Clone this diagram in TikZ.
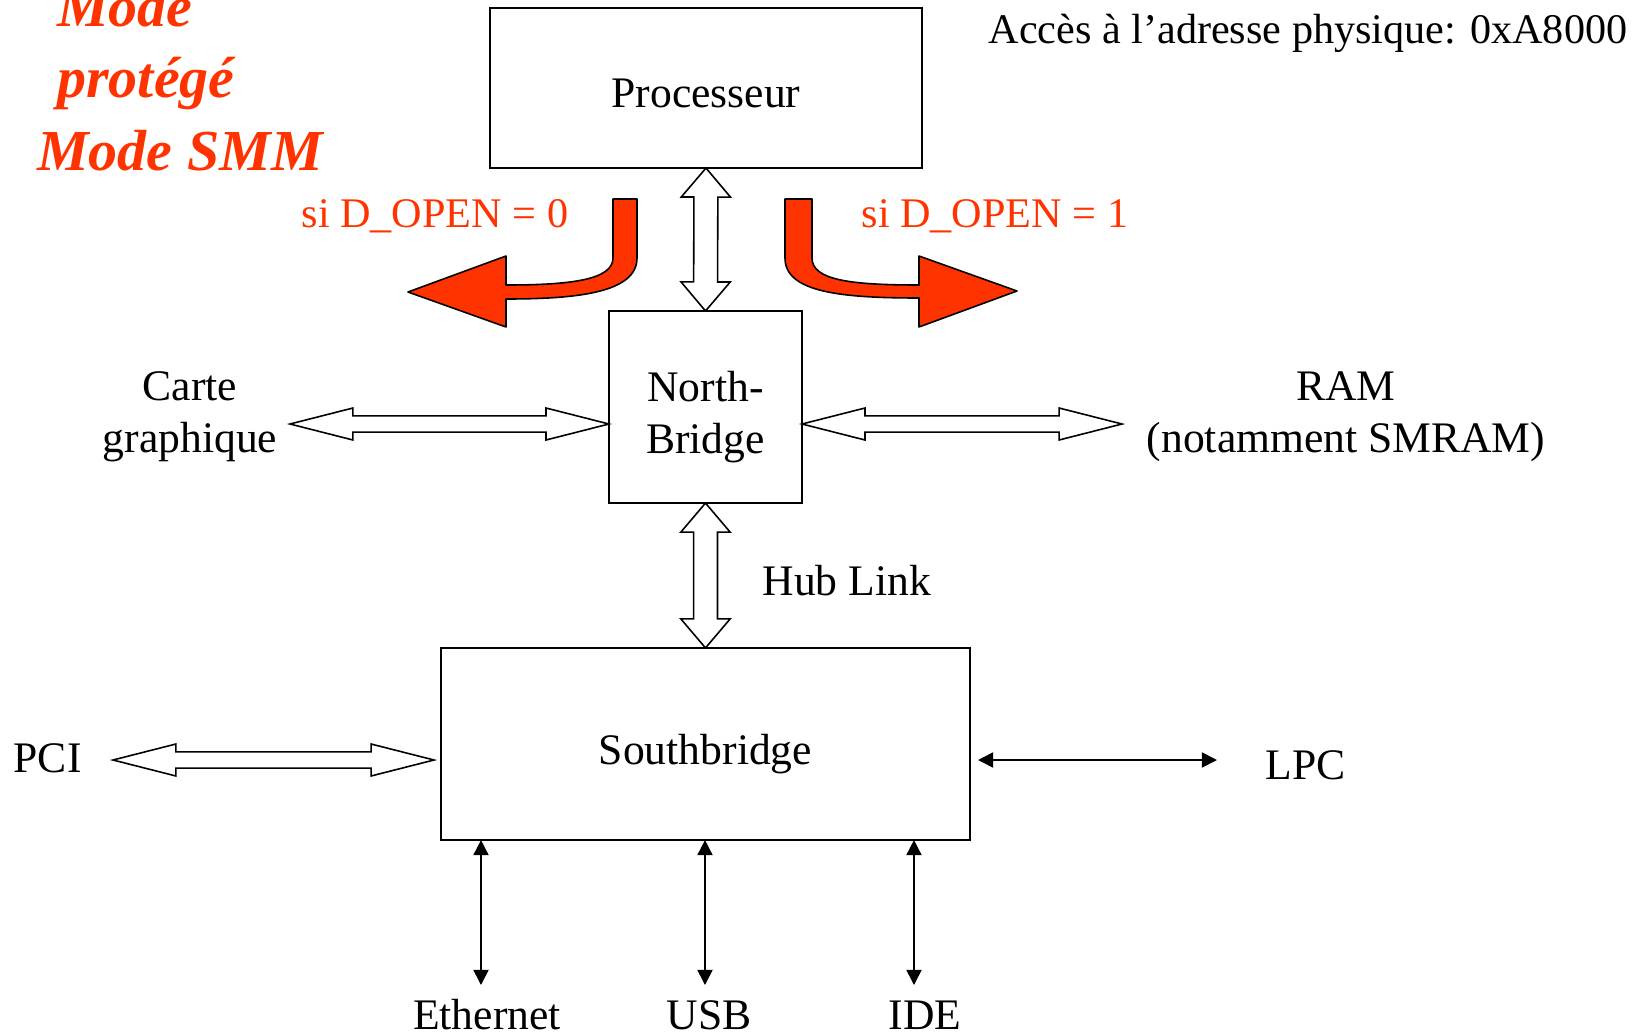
\documentclass[tikz,border=0pt]{standalone}
\usepackage{fontspec}
\setmainfont{Liberation Serif}
\usetikzlibrary{arrows.meta,calc,positioning}
\definecolor{smmred}{HTML}{FF3300}

\tikzset{
  chip/.style={draw, line width=0.6pt, inner sep=0pt, outer sep=0pt},
  busline/.style={draw, line width=0.45pt, fill=white, line join=miter},
  wire/.style={line width=0.45pt, {Triangle[length=4.3pt,width=4.3pt]}-{Triangle[length=4.3pt,width=4.3pt]}},
  redbend/.style={draw, line width=0.45pt, fill=smmred, line join=round},
  lbl/.style={inner sep=0pt, align=center},
  small/.style={font=\fontsize{12}{14.9}\selectfont},
  cond/.style={lbl, small, text=smmred},
  smmtitle/.style={inner sep=0pt, text=smmred, font=\fontsize{16.5}{20}\selectfont\bfseries\itshape},
}

% hollow two-way bus: from, to, head length, head half width, shaft half width
\newcommand{\busarrow}[5]{%
  \draw[busline] (#1)
    -- ($(#1)!#3!(#2)!#4!90:(#2)$)
    -- ($(#1)!#3!(#2)!#5!90:(#2)$)
    -- ($(#2)!#3!(#1)!#5!-90:(#1)$)
    -- ($(#2)!#3!(#1)!#4!-90:(#1)$)
    -- (#2)
    -- ($(#2)!#3!(#1)!#4!90:(#1)$)
    -- ($(#2)!#3!(#1)!#5!90:(#1)$)
    -- ($(#1)!#3!(#2)!#5!-90:(#2)$)
    -- ($(#1)!#3!(#2)!#4!-90:(#2)$)
    -- cycle;}

\begin{document}
\begin{tikzpicture}[x=0.01cm, y=-0.01cm, font=\fontsize{12.4}{14.9}\selectfont]
\useasboundingbox (0,0) rectangle (1644,1033);

% chips
\node[chip, minimum width=4.32cm, minimum height=1.6cm] (cpu) at (706,88) {};
\node[chip, minimum width=1.93cm, minimum height=1.92cm] (nb) at (705.5,407) {};
\node[chip, minimum width=5.29cm, minimum height=1.92cm] (sb) at (705.5,744) {};
\node[lbl] (cpu-name) at ([yshift=-0.05cm]cpu.center) {Processeur};
\node[lbl] (nb-name) at ([yshift=-0.1cm]nb.center) {North-\\Bridge};
\node[lbl] (sb-name) at ([yshift=-0.1cm]sb.center) {Southbridge};

% labels
\node[lbl, small, anchor=base east] (addr) at (1628,43) {Accès à l’adresse physique: 0xA8000};
\node[smmtitle, anchor=base] (mode1) at (125,26) {Mode};
\node[smmtitle, anchor=base] (mode2) at (146,97) {protégé};
\node[smmtitle, anchor=base] (mode3) at (180,170) {Mode SMM};
\node[cond, anchor=base west] (open0) at (301,227) {si D\_OPEN = 0};
\node[cond, anchor=base west] (open1) at (861,227) {si D\_OPEN = 1};
\node[lbl] (gfx) at (190,417) {Carte\\graphique};
\node[lbl] (ram) at (1346,417) {RAM\\(notamment SMRAM)};
\node[lbl, anchor=base west] (hub) at (762,595) {Hub Link};
\node[lbl, anchor=base west] (pci) at (13,772) {PCI};
\node[lbl, anchor=base west] (lpc) at (1265,779) {LPC};
\node[lbl, anchor=base] (eth) at (487,1029) {Ethernet};
\node[lbl, anchor=base] (usb) at (709,1029) {USB};
\node[lbl, anchor=base] (ide) at (925,1029) {IDE};

% bus ends
\coordinate (gfx-bus) at (290,424);
\coordinate (nb-w) at (nb.west |- gfx-bus);
\coordinate (nb-e) at (nb.east |- gfx-bus);
\coordinate (ram-bus) at (1122,424);
\coordinate (pci-bus) at (113,760);
\coordinate (sb-w) at (434,760);
\coordinate (sb-e) at (978,760);
\coordinate (lpc-bus) at (1217,760);
\coordinate (eth-bus) at (481,985);
\coordinate (usb-bus) at (705,985);
\coordinate (ide-bus) at (914,985);

% hollow buses
\busarrow{cpu.south}{nb.north}{8.25pt}{7pt}{3.4pt}
\busarrow{nb.south}{sb.north}{8.25pt}{7pt}{3.4pt}
\busarrow{gfx-bus}{nb-w}{17.9pt}{4.55pt}{2.3pt}
\busarrow{nb-e}{ram-bus}{17.9pt}{4.55pt}{2.3pt}
\busarrow{pci-bus}{sb-w}{17.9pt}{4.55pt}{2.3pt}

% thin links
\draw[wire] (sb-e) -- (lpc-bus);
\draw[wire] (eth-bus |- sb.south) -- (eth-bus);
\draw[wire] (usb-bus |- sb.south) -- (usb-bus);
\draw[wire] (ide-bus |- sb.south) -- (ide-bus);

% D_OPEN routing
\path[redbend] (613,199) -- (637,199) -- (637,258)
  .. controls (637,292) and (580,299) .. (506,299)
  -- (506,327) -- (408,292) -- (506,256) -- (506,285)
  .. controls (570,285) and (613,280) .. (613,258) -- cycle;
\path[redbend] (785,199) -- (812,199) -- (812,258)
  .. controls (812,280) and (850,285) .. (919,285)
  -- (919,256) -- (1017,291) -- (919,327) -- (919,298)
  .. controls (840,298) and (785,292) .. (785,258) -- cycle;
\end{tikzpicture}
\end{document}
